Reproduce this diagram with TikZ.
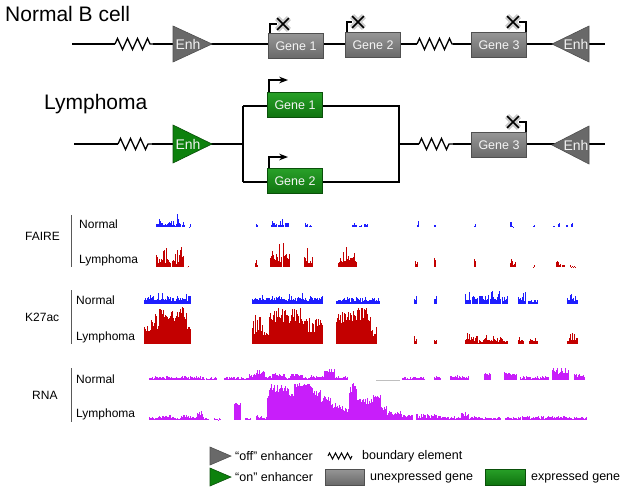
\documentclass[tikz,border=0pt]{standalone}
\usepackage{fontspec}
\setmainfont{Liberation Sans}
\usetikzlibrary{arrows.meta,decorations.pathmorphing,shapes.misc}
\definecolor{offTop}{RGB}{150,150,150}
\definecolor{offBot}{RGB}{105,105,105}
\definecolor{offEdge}{RGB}{80,80,80}
\definecolor{onTop}{RGB}{40,160,40}
\definecolor{onBot}{RGB}{15,115,15}
\definecolor{onEdge}{RGB}{10,80,10}
\definecolor{fblue}{RGB}{30,30,255}
\definecolor{fred}{RGB}{195,0,0}
\definecolor{rnapink}{RGB}{200,30,250}
\tikzset{
    >={Stealth[]},
    dna/.style={line width=1.7pt},
    zig/.style={line width=1.3pt,decorate,decoration={zigzag,segment length=10pt,amplitude=5.5pt}},
    zigsmall/.style={line width=1pt,decorate,decoration={zigzag,segment length=6pt,amplitude=3pt}},
    gene/.style={line width=0.8pt,text=white!92!gray,minimum width=55pt,minimum height=25pt,
        inner sep=0pt,font=\fontsize{12.5}{13}\selectfont},
    geneoff/.style={gene,draw=offEdge,top color=offTop,bottom color=offBot},
    geneon/.style={gene,draw=onEdge,top color=onTop,bottom color=onBot},
    enhoff/.style={fill=offBot,draw=offEdge,line width=0.6pt},
    enhon/.style={fill=onBot!90!green,draw=onEdge,line width=0.6pt},
    enhtext/.style={text=white!90!gray,inner sep=0pt,font=\fontsize{14}{14}\selectfont},
    tss/.style={line width=1.3pt,->},
    block/.style={line width=1.3pt},
    xmark/.style={cross out,draw=black,line width=1.6pt,minimum size=10pt,inner sep=0pt,
        preaction={draw=gray!40,line width=5.5pt}},
    title/.style={anchor=base west,inner sep=0pt,font=\fontsize{21}{21}\selectfont},
    lbl/.style={anchor=west,inner sep=0pt,font=\fontsize{12}{12}\selectfont},
    legtxt/.style={anchor=west,inner sep=0pt,font=\fontsize{12.5}{13}\selectfont}
}
% track helpers: colour, baseline, first x, last x, low, high
\newcommand{\spikes}[6]{\foreach \px in {#3,...,#4}{%
    \pgfmathsetmacro{\ph}{#5+(#6-#5)*rnd*rnd}%
    \fill[#1] (\px,#2) rectangle ++(1.05,-\ph);}}
\newcommand{\hills}[6]{\foreach \px in {#3,...,#4}{%
    \pgfmathsetmacro{\ph}{#5+(#6-#5)*rnd}%
    \fill[#1] (\px,#2) rectangle ++(1.05,-\ph);}}

\begin{document}
\begin{tikzpicture}[x=1pt,y=-1pt]
    \useasboundingbox (0,0) rectangle (624,496);
    \pgfmathsetseed{7}

    % normal B cell locus
    \node[title] (tnorm) at (5,21) {Normal B cell};
    \coordinate (n0) at (72,44);
    \coordinate (nz1) at (115,44);
    \coordinate (nz2) at (153,44);
    \coordinate (nz3) at (417,44);
    \coordinate (nz4) at (453,44);
    \coordinate (n9) at (605,44);
    \draw[dna] (n0) -- (nz1);
    \draw[zig] (nz1) -- (nz2);
    \draw[dna] (nz2) -- (nz3);
    \draw[zig] (nz3) -- (nz4);
    \draw[dna] (nz4) -- (n9);
    \filldraw[enhoff] (173,26) -- (212,44) -- (173,62) -- cycle;
    \node[enhtext] (ne1) at (188,44) {Enh};
    \filldraw[enhoff] (589,26) -- (552,44) -- (589,62) -- cycle;
    \node[enhtext] (ne2) at (576,44) {Enh};
    \node[geneoff] (ng1) at (296,46) {Gene 1};
    \node[geneoff] (ng2) at (373,45) {Gene 2};
    \node[geneoff] (ng3) at (499,45) {Gene 3};
    \node[xmark] (nx1) at (283,24) {};
    \node[xmark] (nx2) at (358,22) {};
    \node[xmark] (nx3) at (513,22) {};
    \draw[block] ([xshift=2pt]ng1.north west) |- (nx1);
    \draw[block] ([xshift=2pt]ng2.north west) |- (nx2);
    \draw[block] ([xshift=-1pt]ng3.north east) |- (nx3);
    \node[xmark] at (nx1) {};
    \node[xmark] at (nx2) {};
    \node[xmark] at (nx3) {};

    % lymphoma locus
    \node[title] (tlym) at (44,109) {Lymphoma};
    \coordinate (l0) at (74,144);
    \coordinate (lz1) at (118,144);
    \coordinate (lz2) at (152,144);
    \coordinate (lb) at (243,144);
    \coordinate (lbt) at (243,106);
    \coordinate (lbb) at (243,182);
    \coordinate (rbt) at (399,106);
    \coordinate (rbb) at (399,182);
    \coordinate (rb) at (399,144);
    \coordinate (lz3) at (419,144);
    \coordinate (lz4) at (453,144);
    \coordinate (l9) at (605,144);
    \draw[dna] (l0) -- (lz1);
    \draw[zig] (lz1) -- (lz2);
    \draw[dna] (lz2) -- (lb);
    \draw[dna] (lbt) -- (lbb);
    \draw[dna] (lbt) -- (rbt) -- (rbb) -- (lbb);
    \draw[dna] (rb) -- (lz3);
    \draw[zig] (lz3) -- (lz4);
    \draw[dna] (lz4) -- (l9);
    \filldraw[enhon] (173,125) -- (212,144) -- (173,163) -- cycle;
    \node[enhtext] (le1) at (188,144) {Enh};
    \filldraw[enhoff] (589,126) -- (552,145) -- (589,164) -- cycle;
    \node[enhtext] (le2) at (576,145) {Enh};
    \node[geneon] (lg1) at (295,105) {Gene 1};
    \node[geneon] (lg2) at (295,181) {Gene 2};
    \node[geneoff] (lg3) at (499,145) {Gene 3};
    \coordinate (la1) at (288,80);
    \coordinate (la2) at (288,157);
    \draw[tss] ([xshift=2pt]lg1.north west) |- (la1);
    \draw[tss] ([xshift=2pt]lg2.north west) |- (la2);
    \node[xmark] (lx3) at (513,122) {};
    \draw[block] ([xshift=-1pt]lg3.north east) |- (lx3);
    \node[xmark] at (lx3) {};

    % track labels
    \coordinate (fa1) at (71,215);
    \coordinate (fa2) at (71,267);
    \coordinate (ka1) at (71,290);
    \coordinate (ka2) at (71,344);
    \coordinate (ra1) at (71,368);
    \coordinate (ra2) at (71,422);
    \draw[line width=1pt,gray!70!black] (fa1) -- (fa2);
    \draw[line width=1pt,gray!70!black] (ka1) -- (ka2);
    \draw[line width=1pt,gray!70!black] (ra1) -- (ra2);
    \node[lbl] (faire) at (25,236) {FAIRE};
    \node[lbl] (fan) at (79,224) {Normal};
    \node[lbl] (fal) at (79,260) {Lymphoma};
    \node[lbl] (k27) at (25,317) {K27ac};
    \node[lbl] (kan) at (76,300) {Normal};
    \node[lbl] (kal) at (76,337) {Lymphoma};
    \node[lbl] (rna) at (32,395) {RNA};
    \node[lbl] (ran) at (76,379) {Normal};
    \node[lbl] (ral) at (76,414) {Lymphoma};

    % FAIRE
    \foreach \a/\b/\l/\h in {156/170/2/11,171/176/1/8,177/180/3/14,182/184/1/7,189/190/0/4,
        256/257/1/5,271/276/2/8,278/283/2/9,285/288/3/10,305/307/2/7,309/311/1/6,
        352/356/2/7,359/361/1/5,364/367/2/7,417/418/2/7,434/435/2/8,474/475/0/4,
        510/511/2/10,512/513/0/5,533/534/0/4,553/554/1/6,558/559/2/8,566/567/1/6,571/572/3/13}
        {\spikes{fblue}{227}{\a}{\b}{\l}{\h}}
    \foreach \a/\b/\l/\h in {156/166/4/26,167/170/4/22,172/178/3/20,179/183/6/32,187/188/0/3,
        255/257/2/10,270/276/6/28,277/281/4/26,283/289/6/30,304/307/6/25,308/312/2/12,
        338/343/4/20,344/350/6/26,351/356/3/20,415/417/3/11,434/435/4/13,474/475/3/12,
        510/515/2/11,533/534/0/3,556/560/2/11,562/564/2/8,570/575/0/3}
        {\spikes{fred}{267}{\a}{\b}{\l}{\h}}

    % K27ac
    \foreach \a/\b/\l/\h in {144/190/2/7,252/322/2/6,336/379/2/6}
        {\hills{fblue}{304}{\a}{\b}{\l}{\h}}
    \foreach \a/\b/\l/\h in {144/190/3/13,252/322/3/11,336/379/2/10,414/416/2/10,434/436/3/12,
        465/470/4/15,472/477/4/17,479/488/4/18,490/500/4/19,502/507/3/15,
        518/525/3/15,528/537/2/10,567/577/3/12}
        {\spikes{fblue}{304}{\a}{\b}{\l}{\h}}
    \foreach \a/\b/\l/\h in {144/150/10/20,151/158/15/30,159/186/22/37,187/190/8/18,
        252/262/10/30,263/268/5/12,269/300/20/37,301/322/10/28,
        336/345/18/35,346/370/22/37,371/376/8/18}
        {\hills{fred}{344}{\a}{\b}{\l}{\h}}
    \foreach \a/\b/\l/\h in {414/416/3/12,434/436/2/10,
        465/470/4/20,471/480/1/12,481/507/2/13,518/523/3/10,529/537/3/10,567/577/3/12}
        {\spikes{fred}{344}{\a}{\b}{\l}{\h}}

    % RNA
    \foreach \a/\b/\l/\h in {149/204/1/4,206/216/1/3,224/248/1/3,249/255/3/6,256/264/6/10,
        265/271/2/4,272/284/4/7,285/289/1/3,290/302/4/7,303/309/1/3,310/316/2/5,
        317/323/2/4,324/334/7/11,335/347/1/4,402/424/1/3,434/440/2/4,450/468/2/5,
        484/490/5/8,504/516/4/8,520/548/1/4,552/568/5/12,574/584/3/7}
        {\hills{rnapink}{380}{\a}{\b}{\l}{\h}}
    \draw[gray!50,line width=0.6pt] (376,380) -- (400,380);
    \foreach \a/\b/\l/\h in {149/160/1/4,161/170/2/5,171/180/1/3,181/196/2/5,197/202/5/10,
        203/208/1/3,214/220/0/2,234/240/15/17,245/250/1/3,256/262/2/5,263/266/1/3,
        267/270/20/35,271/288/28/36,289/293/22/28,294/312/32/37,313/320/24/30,
        321/330/18/24,331/340/12/17,341/348/8/14,349/356/26/37,357/362/18/24,
        363/372/16/22,373/380/20/26,381/386/8/14,387/400/5/9,401/412/3/6,
        416/440/2/6,441/460/1/4,461/468/4/8,469/480/1/4,481/500/1/3,
        505/520/1/3,522/545/1/4,546/566/2/4,567/586/1/3}
        {\hills{rnapink}{420}{\a}{\b}{\l}{\h}}

    % legend
    \filldraw[enhoff] (210,447) -- (231,456) -- (210,465) -- cycle;
    \node[legtxt] (lgoff) at (235,456) {“off” enhancer};
    \coordinate (lgz1) at (328,456);
    \coordinate (lgz2) at (352,456);
    \draw[zigsmall] (lgz1) -- (lgz2);
    \node[legtxt] (lgbd) at (362,456) {boundary element};
    \filldraw[enhon] (210,468) -- (231,477) -- (210,486) -- cycle;
    \node[legtxt] (lgon) at (235,477) {“on” enhancer};
    \node[geneoff,minimum width=39pt,minimum height=16pt] (lgun) at (344.5,477) {};
    \node[legtxt] (lgunt) at (370,477) {unexpressed gene};
    \node[geneon,minimum width=40pt,minimum height=16pt] (lgex) at (505,477) {};
    \node[legtxt] (lgext) at (531,477) {expressed gene};
\end{tikzpicture}
\end{document}
